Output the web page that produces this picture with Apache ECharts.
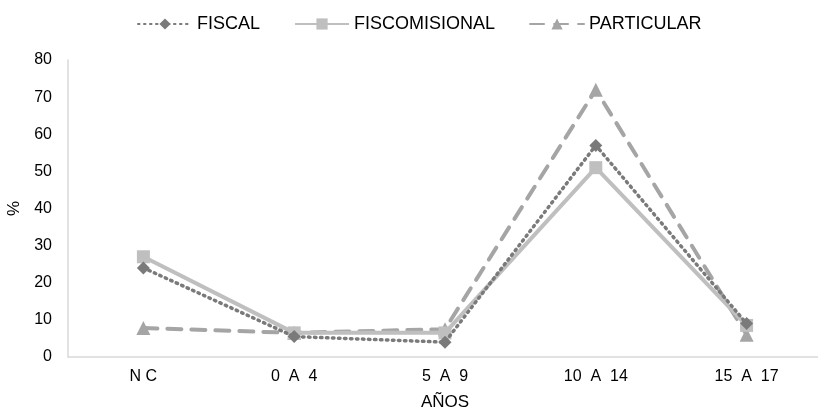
<!DOCTYPE html>
<html>
<head>
<meta charset="utf-8">
<script src="https://cdn.jsdelivr.net/npm/echarts@6/dist/echarts.min.js"></script>
<style>
html,body{margin:0;padding:0;background:#fff;}
#chart{width:818px;height:409px;}
</style>
</head>
<body>
<div id="chart"></div>
<script>
// Age groups (categories) and percentages per school type
const categories = ['N C', '0  A  4', '5  A  9', '10  A  14', '15  A  17'];
const fiscal = [24, 5.5, 4, 57, 9];
const fiscomisional = [27, 6.5, 6.5, 51, 8.5];
const particular = [7.8, 6.5, 7.5, 72, 6];
const yTicks = { min: 0, max: 80, interval: 10 };

const font = 'Liberation Sans, Arial, sans-serif';
const chart = echarts.init(document.getElementById('chart'));

chart.setOption({
  backgroundColor: '#fff',
  animation: false,
  textStyle: { fontFamily: font },
  legend: {
    top: 10,
    left: 132,
    itemWidth: 54,
    itemHeight: 14,
    itemGap: 34,
    textStyle: { fontFamily: font, fontSize: 18, color: '#000' },
    data: ['FISCAL', 'FISCOMISIONAL', 'PARTICULAR']
  },
  grid: {
    left: 68, top: 60, width: 754, height: 297,
    containLabel: false, outerBoundsMode: 'none'
  },
  xAxis: {
    type: 'category',
    data: categories,
    name: 'AÑOS',
    nameLocation: 'middle',
    nameGap: 37,
    nameTextStyle: { fontFamily: font, fontSize: 17, color: '#000' },
    axisLine: { lineStyle: { color: '#d9d9d9', width: 1.5 } },
    axisTick: { show: false },
    axisLabel: { fontFamily: font, fontSize: 16, color: '#000', margin: 12 }
  },
  yAxis: {
    type: 'value',
    min: yTicks.min,
    max: yTicks.max,
    interval: yTicks.interval,
    name: '%',
    nameLocation: 'middle',
    nameGap: 44,
    nameRotate: 90,
    nameTextStyle: { fontFamily: font, fontSize: 17, color: '#000' },
    axisLine: { show: true, lineStyle: { color: '#d9d9d9', width: 1.5 } },
    axisTick: { show: false },
    splitLine: { show: false },
    axisLabel: { fontFamily: font, fontSize: 16, color: '#000', margin: 16 }
  },
  series: [
    {
      name: 'FISCAL',
      type: 'line',
      data: fiscal,
      symbol: 'diamond',
      symbolSize: 13,
      z: 4,
      itemStyle: { color: '#7a7a7a' },
      lineStyle: { color: '#7a7a7a', width: 3.5, type: [1.5, 4.5], cap: 'round' }
    },
    {
      name: 'FISCOMISIONAL',
      type: 'line',
      data: fiscomisional,
      symbol: 'rect',
      symbolSize: 13,
      z: 3,
      itemStyle: { color: '#bfbfbf' },
      lineStyle: { color: '#bfbfbf', width: 4, type: 'solid' }
    },
    {
      name: 'PARTICULAR',
      type: 'line',
      data: particular,
      symbol: 'triangle',
      symbolSize: 14,
      z: 2,
      itemStyle: { color: '#a5a5a5' },
      lineStyle: { color: '#a5a5a5', width: 4, type: [14, 10], cap: 'round' }
    }
  ]
});
</script>
</body>
</html>
